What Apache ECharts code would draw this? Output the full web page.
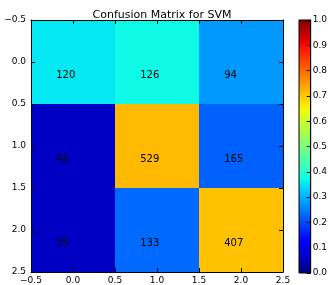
<!DOCTYPE html>
<html>
<head>
<meta charset="utf-8">
<script src="https://cdn.jsdelivr.net/npm/echarts@6/dist/echarts.min.js"></script>
<style>
html, body { margin: 0; padding: 0; background: #fff; }
#divChart { width: 330px; height: 285px; }
</style>
</head>
<body>
<div id="divChart"></div>
<script>
// confusion matrix counts, row = true label, col = predicted
var arrRow0 = [120, 126, 94];
var arrRow1 = [45, 529, 165];
var arrRow2 = [35, 133, 407];
var arrRows = [arrRow0, arrRow1, arrRow2];
var arrTicks = [-0.5, 0.0, 0.5, 1.0, 1.5, 2.0, 2.5];
var arrBarTicks = [0.0, 0.1, 0.2, 0.3, 0.4, 0.5, 0.6, 0.7, 0.8, 0.9, 1.0];

var strFont = 'DejaVu Sans';

// matplotlib jet segment data
var jetR = [[0, 0], [0.35, 0], [0.66, 1], [0.89, 1], [1, 0.5]];
var jetG = [[0, 0], [0.125, 0], [0.375, 1], [0.64, 1], [0.91, 0], [1, 0]];
var jetB = [[0, 0.5], [0.11, 1], [0.34, 1], [0.65, 0], [1, 0]];

function SegVal(arrSeg, v) {
    for (var intI = 1; intI < arrSeg.length; intI++) {
        if (v <= arrSeg[intI][0]) {
            var a = arrSeg[intI - 1], b = arrSeg[intI];
            var t = (v - a[0]) / (b[0] - a[0]);
            return a[1] + t * (b[1] - a[1]);
        }
    }
    return arrSeg[arrSeg.length - 1][1];
}

function Jet(v) {
    v = Math.floor(Math.max(0, Math.min(1, v)) * 255) / 255;
    return 'rgb(' + Math.round(SegVal(jetR, v) * 255) + ',' +
        Math.round(SegVal(jetG, v) * 255) + ',' +
        Math.round(SegVal(jetB, v) * 255) + ')';
}

var arrCells = [];
for (var intI = 0; intI < arrRows.length; intI++) {
    var intSum = arrRows[intI].reduce(function(s, x) { return s + x; }, 0);
    for (var intJ = 0; intJ < arrRows[intI].length; intJ++) {
        arrCells.push([intJ, intI, arrRows[intI][intJ] / intSum, arrRows[intI][intJ]]);
    }
}

var arrStops = [];
for (var intK = 0; intK <= 64; intK++) {
    arrStops.push({ offset: intK / 64, color: Jet(intK / 64) });
}

function FmtTick(v) {
    return v.toFixed(1).replace('-', '\u2212');
}

var objLabel = { color: '#000', fontFamily: strFont, fontSize: 9 };
var objLine = { show: true, onZero: false, lineStyle: { color: '#000', width: 1 } };
var objTick = { show: true, inside: true, length: 4, lineStyle: { color: '#000' } };

var chart = echarts.init(document.getElementById('divChart'));
var opt = {
    animation: false,
    title: {
        text: 'Confusion Matrix for SVM',
        left: 157, top: 5, textAlign: 'center',
        textStyle: { fontFamily: strFont, fontSize: 11, fontWeight: 'normal', color: '#000' }
    },
    grid: [
        { left: 31, right: 47, top: 20, bottom: 12 },
        { left: 299, width: 14, top: 20, bottom: 12 }
    ],
    xAxis: [
        { type: 'value', gridIndex: 0, min: -0.5, max: 2.5, interval: 0.5, position: 'bottom', z: 5,
          axisLine: objLine, axisTick: objTick, splitLine: { show: false },
          axisLabel: Object.assign({ margin: 4, formatter: FmtTick, showMinLabel: true, showMaxLabel: true }, objLabel) },
        { type: 'value', gridIndex: 0, min: -0.5, max: 2.5, interval: 0.5, position: 'top', z: 5,
          axisLine: objLine, axisTick: objTick, splitLine: { show: false }, axisLabel: { show: false } },
        { type: 'value', gridIndex: 1, min: 0, max: 1, show: false }
    ],
    yAxis: [
        { type: 'value', gridIndex: 0, min: -0.5, max: 2.5, interval: 0.5, inverse: true, position: 'left', z: 5,
          axisLine: objLine, axisTick: objTick, splitLine: { show: false },
          axisLabel: Object.assign({ margin: 5, formatter: FmtTick, showMinLabel: true, showMaxLabel: true }, objLabel) },
        { type: 'value', gridIndex: 0, min: -0.5, max: 2.5, interval: 0.5, inverse: true, position: 'right', z: 5,
          axisLine: objLine, axisTick: objTick, splitLine: { show: false }, axisLabel: { show: false } },
        { type: 'value', gridIndex: 1, min: 0, max: 1, interval: 0.1, position: 'right', z: 5,
          axisLine: objLine, axisTick: objTick, splitLine: { show: false },
          axisLabel: Object.assign({ margin: 2, formatter: function(v) { return v.toFixed(1); },
              showMinLabel: true, showMaxLabel: true }, objLabel) }
    ],
    series: [{
        type: 'custom',
        xAxisIndex: 0, yAxisIndex: 0, z: 1,
        data: arrCells,
        renderItem: function(params, api) {
            var j = api.value(0), i = api.value(1);
            var p0 = api.coord([j - 0.5, i - 0.5]);
            var p1 = api.coord([j + 0.5, i + 0.5]);
            var pt = api.coord([j - 0.2, i + 0.2]);
            return {
                type: 'group',
                children: [{
                    type: 'rect',
                    shape: { x: Math.min(p0[0], p1[0]), y: Math.min(p0[1], p1[1]),
                             width: Math.abs(p1[0] - p0[0]), height: Math.abs(p1[1] - p0[1]) },
                    style: { fill: Jet(api.value(2)) }
                }, {
                    type: 'text',
                    style: { x: pt[0], y: pt[1] + 2, text: String(api.value(3)),
                             fill: '#000', font: '10px ' + strFont,
                             textAlign: 'left', verticalAlign: 'bottom' }
                }]
            };
        }
    }, {
        type: 'custom',
        xAxisIndex: 2, yAxisIndex: 2, z: 1,
        data: [[0, 0]],
        renderItem: function(params, api) {
            var p0 = api.coord([0, 1]);
            var p1 = api.coord([1, 0]);
            return {
                type: 'rect',
                shape: { x: p0[0], y: p0[1], width: p1[0] - p0[0], height: p1[1] - p0[1] },
                style: { fill: new echarts.graphic.LinearGradient(0, 1, 0, 0, arrStops),
                         stroke: '#000', lineWidth: 1 }
            };
        }
    }]
};
chart.setOption(opt);
</script>
</body>
</html>
